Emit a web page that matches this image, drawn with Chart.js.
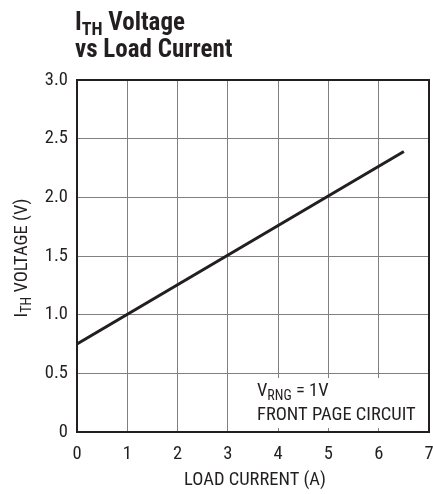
<!DOCTYPE html>
<html>
<head>
<meta charset="utf-8">
<script src="https://cdn.jsdelivr.net/npm/chart.js@4"></script>
<style>
html,body{margin:0;padding:0;background:#fff;}
#wrap{width:433px;height:494px;position:relative;}
</style>
</head>
<body>
<div id="wrap"><canvas id="c" width="433" height="494"></canvas></div>
<script>
const loadCurrent = [0, 6.5];
const ithVoltage = [0.75, 2.39];
const xTicks = [0, 1, 2, 3, 4, 5, 6, 7];
const yTickLabels = {0: '0', 0.5: '0.5', 1: '1.0', 1.5: '1.5', 2: '2.0', 2.5: '2.5', 3: '3.0'};

const FONT = "'Liberation Sans Narrow', 'Arial Narrow', 'Roboto Condensed', Roboto, sans-serif";
const TXT = 18.5;

function drawSub(ctx, parts, x, y, align) {
  let total = 0;
  parts.forEach(p => {
    ctx.font = (p.bold ? 'bold ' : '') + p.size + 'px ' + FONT;
    p.w = ctx.measureText(p.t).width;
    total += p.w;
  });
  let cx = align === 'center' ? x - total / 2 : x;
  parts.forEach(p => {
    ctx.font = (p.bold ? 'bold ' : '') + p.size + 'px ' + FONT;
    ctx.textAlign = 'left';
    ctx.textBaseline = 'alphabetic';
    ctx.fillText(p.t, cx, y + (p.sub ? p.size * 0.3 : 0));
    cx += p.w;
  });
}

const decor = {
  id: 'decor',
  afterDraw(chart) {
    const ctx = chart.ctx;
    const a = chart.chartArea;
    ctx.save();
    ctx.fillStyle = '#231f20';
    drawSub(ctx, [{t: 'I', size: 25, bold: true}, {t: 'TH', size: 18, bold: true, sub: true}, {t: ' Voltage', size: 25, bold: true}], 75, 30, 'left');
    drawSub(ctx, [{t: 'vs Load Current', size: 25, bold: true}], 75, 57, 'left');
    drawSub(ctx, [{t: 'LOAD CURRENT (A)', size: TXT}], 255, 485, 'center');
    ctx.save();
    ctx.translate(27, 258);
    ctx.rotate(-Math.PI / 2);
    drawSub(ctx, [{t: 'I', size: TXT}, {t: 'TH', size: 14, sub: true}, {t: ' VOLTAGE (V)', size: TXT}], 0, 0, 'center');
    ctx.restore();
    ctx.fillStyle = '#fff';
    ctx.fillRect(252, 378, 174, 50);
    ctx.fillStyle = '#231f20';
    drawSub(ctx, [{t: 'V', size: TXT}, {t: 'RNG', size: 14, sub: true}, {t: ' = 1V', size: TXT}], 257, 396, 'left');
    drawSub(ctx, [{t: 'FRONT PAGE CIRCUIT', size: TXT}], 257, 420, 'left');
    ctx.strokeStyle = '#231f20';
    ctx.lineWidth = 2;
    ctx.strokeRect(a.left, a.top, a.right - a.left, a.bottom - a.top);
    ctx.restore();
  }
};

new Chart(document.getElementById('c'), {
  type: 'scatter',
  data: {
    datasets: [{
      data: loadCurrent.map((x, i) => ({x: x, y: ithVoltage[i]})),
      showLine: true,
      borderColor: '#231f20',
      borderWidth: 3,
      pointRadius: 0,
      fill: false
    }]
  },
  options: {
    responsive: false,
    animation: false,
    layout: {padding: {top: 80, right: 4, left: 0, bottom: 0}},
    plugins: {legend: {display: false}, tooltip: {enabled: false}},
    scales: {
      x: {
        type: 'linear', min: 0, max: 7,
        afterBuildTicks: s => { s.ticks = xTicks.map(v => ({value: v})); },
        afterFit: s => { s.height = 62; s.paddingLeft = 0; s.paddingRight = 0; },
        grid: {color: '#808080', lineWidth: 1, drawTicks: false},
        border: {display: false},
        ticks: {color: '#231f20', font: {family: FONT, size: TXT}, padding: 11, maxRotation: 0}
      },
      y: {
        type: 'linear', min: 0, max: 3,
        afterBuildTicks: s => { s.ticks = Object.keys(yTickLabels).map(Number).sort((a,b)=>a-b).map(v => ({value: v})); },
        afterFit: s => { s.width = 77; s.paddingTop = 0; s.paddingBottom = 0; },
        grid: {color: '#808080', lineWidth: 1, drawTicks: false},
        border: {display: false},
        ticks: {color: '#231f20', font: {family: FONT, size: TXT}, padding: 9, callback: v => yTickLabels[v]}
      }
    }
  },
  plugins: [decor]
});
</script>
</body>
</html>
